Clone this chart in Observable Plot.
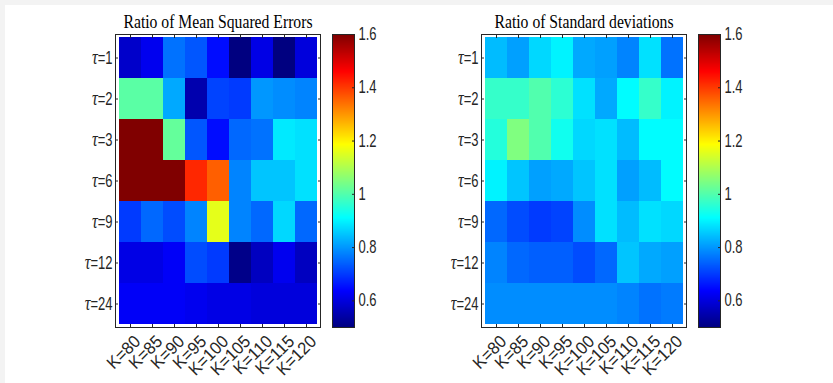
<!DOCTYPE html>
<html><head><meta charset="utf-8">
<script src="https://cdn.jsdelivr.net/npm/d3@7"></script>
<script src="https://cdn.jsdelivr.net/npm/@observablehq/plot@0.6"></script>
<style>
html,body{margin:0;padding:0;background:#f3f3f3;}
#wrap{position:relative;width:833px;height:383px;overflow:hidden;}
#paper{position:absolute;left:5px;top:5px;right:0;bottom:0;background:#fff;}
#wrap svg{position:absolute;left:0;top:0;}
</style></head><body>
<div id="wrap"><div id="paper"></div></div>
<script>
const Ks = ["K=80","K=85","K=90","K=95","K=100","K=105","K=110","K=115","K=120"];
const taus = ["τ=1","τ=2","τ=3","τ=6","τ=9","τ=12","τ=24"];
const mse = [
  [0.58,0.62,0.76,0.73,0.65,0.50,0.61,0.50,0.60],
  [1.01,1.01,0.82,0.55,0.71,0.70,0.80,0.79,0.78],
  [1.60,1.60,1.02,0.73,0.65,0.75,0.76,0.89,0.88],
  [1.60,1.60,1.60,1.42,1.36,0.78,0.85,0.85,0.88],
  [0.70,0.75,0.72,0.78,1.16,0.78,0.75,0.87,0.75],
  [0.61,0.61,0.63,0.72,0.70,0.51,0.57,0.62,0.57],
  [0.63,0.63,0.63,0.62,0.61,0.61,0.60,0.60,0.60]
];
const sd = [
  [0.84,0.81,0.87,0.90,0.82,0.81,0.78,0.88,0.76],
  [0.97,0.97,1.00,0.96,0.88,0.82,0.91,0.97,0.90],
  [0.95,1.05,1.00,0.93,0.87,0.88,0.84,0.91,0.91],
  [0.90,0.85,0.81,0.82,0.85,0.88,0.81,0.84,0.91],
  [0.75,0.72,0.70,0.71,0.79,0.88,0.84,0.88,0.87],
  [0.78,0.75,0.74,0.74,0.72,0.75,0.85,0.82,0.81],
  [0.79,0.79,0.79,0.79,0.79,0.79,0.78,0.76,0.77]
];
const titles = ["Ratio of Mean Squared Errors","Ratio of Standard deviations"];
const cbTicks = [0.6,0.8,1,1.2,1.4,1.6];
const cbDomain = [0.5,1.6];

function jet(t) {
  const c = v => Math.max(0, Math.min(1, v));
  const r = c(1.5 - Math.abs(4*t - 3)), g = c(1.5 - Math.abs(4*t - 2)), b = c(1.5 - Math.abs(4*t - 1));
  return `rgb(${Math.round(r*255)},${Math.round(g*255)},${Math.round(b*255)})`;
}
const colorOpts = {type:"linear", domain: cbDomain, interpolate: jet, clamp: true};
const W = 833, H = 383, TOP = 34, BOT = 327;
const INK = "#262626";
const baseStyle = {background:"transparent", fontFamily:"'Liberation Sans', Arial, sans-serif", fontSize:"13px", color: INK, overflow:"visible"};

function heat(values, title, left, right) {
  const data = taus.flatMap((tau,i) => Ks.map((k,j) => ({tau, k, v: values[i][j]})));
  return Plot.plot({
    width: W, height: H,
    marginLeft: left, marginRight: W - right, marginTop: TOP, marginBottom: H - BOT,
    style: baseStyle,
    x: {type:"band", domain: Ks, padding: 0, label: null},
    y: {type:"band", domain: taus, padding: 0, label: null},
    color: colorOpts,
    marks: [
      Plot.cell(data, {x:"k", y:"tau", fill:"v", inset: 0, shapeRendering:"crispEdges"}),
      Plot.axisX({anchor:"bottom", tickSize:3, dy:-3, tickFormat:() => "", label:null, stroke: INK}),
      Plot.axisX({anchor:"top", tickSize:3, dy:3, tickFormat:() => "", label:null, stroke: INK}),
      Plot.axisY({anchor:"left", tickSize:3, dx:3, tickFormat:() => "", label:null, stroke: INK}),
      Plot.axisY({anchor:"right", tickSize:3, dx:-3, tickFormat:() => "", label:null, stroke: INK}),
      Plot.axisX({anchor:"bottom", tickSize:0, tickRotate:-45, tickPadding:11, dx:7, fontSize:16.5, label:null}),
      Plot.axisY({anchor:"left", tickSize:0, tickPadding:3, label:null}),
      Plot.frame({stroke: INK, strokeWidth: 1}),
      Plot.text([title], {frameAnchor:"top", lineAnchor:"bottom", dy:-7, fontFamily:"'Liberation Serif', serif", fontSize:15.7, fill:"#000"})
    ]
  });
}

function colorbar(left, right) {
  return Plot.plot({
    width: W, height: H,
    marginLeft: left, marginRight: W - right, marginTop: TOP, marginBottom: H - BOT,
    style: baseStyle,
    x: {domain:[0,1], axis: null},
    y: {domain: cbDomain, axis: null},
    color: colorOpts,
    marks: [
      Plot.raster({fill: (x, y) => y, x1: 0, x2: 1, y1: cbDomain[0], y2: cbDomain[1], width: 1, height: 300, imageRendering: "auto"}),
      Plot.axisY({anchor:"right", ticks: cbTicks, tickSize:3, dx:-3, tickFormat:() => "", label:null, stroke: INK}),
      Plot.axisY({anchor:"right", ticks: cbTicks, tickSize:0, tickPadding:4, tickFormat: d => String(d), label:null}),
      Plot.frame({stroke: INK, strokeWidth: 1})
    ]
  });
}

function stretch(svg) {
  d3.select(svg).selectAll("text").each(function() {
    const t = d3.select(this);
    const txt = t.text();
    if (txt === "") return;
    const k = titles.includes(txt) ? 1.15 : txt.startsWith("K=") ? 1.05 : 1.35;
    let tr = t.attr("transform");
    if (!tr) {
      const x = +t.attr("x") || 0, y = +t.attr("y") || 0;
      t.attr("x", null).attr("y", null);
      tr = `translate(${x},${y})`;
    }
    t.attr("transform", tr + ` scale(1,${k})`);
    if (txt.startsWith("τ")) {
      t.text(null);
      t.append("tspan").attr("font-family", "'Liberation Serif', serif").attr("font-style", "italic").attr("font-size", "16px").text("τ");
      t.append("tspan").text(txt.slice(1));
    }
  });
}

const wrap = document.getElementById("wrap");
[heat(mse, titles[0], 115, 320), colorbar(332, 354), heat(sd, titles[1], 481, 686), colorbar(698, 720)]
  .forEach(svg => { stretch(svg); wrap.appendChild(svg); });
</script>
</body></html>
